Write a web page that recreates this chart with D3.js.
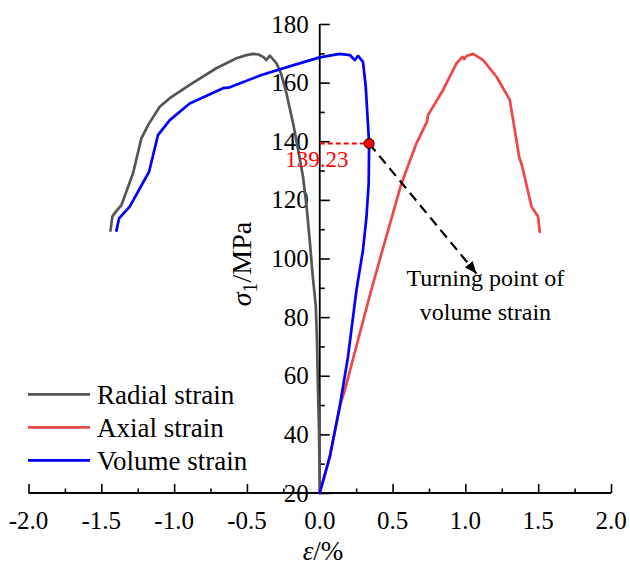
<!DOCTYPE html>
<html>
<head>
<meta charset="utf-8">
<script src="https://cdn.jsdelivr.net/npm/d3@7"></script>
<style>
  html, body { margin: 0; padding: 0; background: #fff; }
  svg { display: block; font-family: "Liberation Serif", "Times New Roman", serif; }
</style>
</head>
<body>
<svg id="chart" width="630" height="569"></svg>
<script>
// Stress–strain curves of a rock specimen under triaxial loading.
// Each curve: [strain %, sigma_1 MPa], in loading order.
const radialStrain = [
  [0, 20], [-0.005, 41.5], [-0.012, 55.1], [-0.019, 72.2], [-0.027, 83.5],
  [-0.050, 95.0], [-0.069, 106.3], [-0.090, 117.5], [-0.115, 127.9],
  [-0.150, 137.5], [-0.183, 146.1], [-0.229, 156.4], [-0.265, 163.0],
  [-0.297, 166.6], [-0.343, 169.2], [-0.366, 167.7], [-0.389, 168.8],
  [-0.420, 169.6], [-0.458, 169.8], [-0.510, 169.3], [-0.572, 168.3],
  [-0.710, 164.9], [-0.893, 159.2], [-1.030, 154.7], [-1.099, 151.8],
  [-1.179, 145.5], [-1.225, 141.0], [-1.282, 129.1], [-1.362, 118.2],
  [-1.400, 116.0], [-1.424, 114.3], [-1.437, 109.5]
];
const axialStrain = [
  [0, 20], [0.069, 32.4], [0.137, 49.4], [0.172, 55.1], [0.263, 72.2],
  [0.350, 88.5], [0.420, 101.0], [0.561, 125.6], [0.664, 139.3],
  [0.735, 146.5], [0.744, 149.0], [0.847, 157.5], [0.939, 166.6],
  [0.980, 168.8], [0.991, 168.0], [1.008, 169.1], [1.053, 169.8],
  [1.122, 167.7], [1.214, 162.0], [1.305, 154.1], [1.324, 148.4],
  [1.369, 134.7], [1.391, 131.3], [1.454, 117.7], [1.499, 114.3],
  [1.511, 109.1]
];
const volumeStrain = [
  [0, 20], [0.069, 32.4], [0.137, 49.4], [0.194, 66.5], [0.252, 89.2],
  [0.297, 102.9], [0.321, 114.3], [0.336, 125.6], [0.339, 139.23],
  [0.328, 148.4], [0.316, 158.6], [0.297, 167.1], [0.263, 169.1],
  [0.240, 167.7], [0.206, 169.4], [0.137, 169.8], [0, 168.6],
  [-0.185, 165.9], [-0.400, 162.6], [-0.618, 158.4], [-0.664, 158.1],
  [-0.893, 152.9], [-1.030, 147.2], [-1.111, 142.1], [-1.172, 129.6],
  [-1.305, 117.7], [-1.378, 113.7], [-1.396, 109.5]
];

const seriesNames = ["Radial strain", "Axial strain", "Volume strain"];
const seriesColors = ["#555555", "#ef4646", "#0000ff"];

const xTickValues = [-2.0, -1.5, -1.0, -0.5, 0.0, 0.5, 1.0, 1.5, 2.0];
const yTickValues = [20, 40, 60, 80, 100, 120, 140, 160, 180];

// Turning point of the volume strain curve and where its callout arrow ends
const turningPoint = [0.339, 139.23];
const calloutEnd = [1.076, 94.9];
const calloutText = ["Turning point of", "volume strain"];

const svg = d3.select("#chart");

const x = d3.scaleLinear().domain([-2, 2]).range([28.5, 611]);
const y = d3.scaleLinear().domain([20, 180]).range([493, 24]);

// ---- axes ----
const axisG = svg.append("g");

// horizontal axis at sigma = 20
const xAxis = d3.axisTop(x)
  .tickValues(d3.range(-2, 2.001, 0.25))
  .tickSize(9)
  .tickFormat("");
const gx = axisG.append("g").attr("transform", `translate(0,${y(20)})`).call(xAxis);
gx.selectAll(".tick line").attr("y2", (d, i) => i % 2 === 0 ? -9 : -4.5);
gx.select(".domain").attr("d", `M${x(-2)},0H${x(2)}`);

// vertical axis at strain = 0, ticks pointing right
const yAxis = d3.axisRight(y)
  .tickValues(d3.range(20, 180.001, 10))
  .tickSize(10)
  .tickFormat("");
const gy = axisG.append("g").attr("transform", `translate(${x(0)},0)`).call(yAxis);
gy.selectAll(".tick line").attr("x2", (d) => d % 20 === 0 ? 10 : 5);
gy.select(".domain").attr("d", `M0,${y(20)}V${y(180)}`);

axisG.selectAll(".domain").attr("stroke", "#000").attr("stroke-width", 1.8);
axisG.selectAll(".tick line").attr("stroke", "#000").attr("stroke-width", 1.6);

// tick labels
svg.append("g").selectAll("text").data(xTickValues).join("text")
  .attr("x", d => x(d)).attr("y", 529)
  .attr("text-anchor", "middle").attr("font-size", 25).attr("fill", "#000")
  .text(d => d.toFixed(1));

svg.append("g").selectAll("text").data(yTickValues).join("text")
  .attr("x", x(0) - 11).attr("y", d => y(d) + 8.5)
  .attr("text-anchor", "end").attr("font-size", 25).attr("fill", "#000")
  .text(d => d);

// axis titles
const xTitle = svg.append("text")
  .attr("x", 323).attr("y", 560).attr("text-anchor", "middle")
  .attr("font-size", 27).attr("fill", "#000");
xTitle.append("tspan").attr("font-style", "italic").text("ε");
xTitle.append("tspan").text("/%");

const yTitle = svg.append("text")
  .attr("transform", "translate(251,264) rotate(-90)")
  .attr("text-anchor", "middle").attr("font-size", 28).attr("fill", "#000");
yTitle.append("tspan").attr("font-style", "italic").text("σ");
yTitle.append("tspan").attr("font-size", 20).attr("dy", 6).text("1");
yTitle.append("tspan").attr("dy", -6).text("/MPa");

// ---- curves ----
const line = d3.line().x(d => x(d[0])).y(d => y(d[1])).curve(d3.curveLinear);
const allSeries = [radialStrain, axialStrain, volumeStrain];
svg.append("g").selectAll("path").data(allSeries).join("path")
  .attr("d", line)
  .attr("fill", "none")
  .attr("stroke", (d, i) => seriesColors[i])
  .attr("stroke-width", 2.7)
  .attr("stroke-linejoin", "round")
  .attr("stroke-linecap", "round");

// ---- turning point callout ----
svg.append("line")
  .attr("x1", x(0)).attr("y1", y(turningPoint[1]))
  .attr("x2", x(turningPoint[0])).attr("y2", y(turningPoint[1]))
  .attr("stroke", "#ff0000").attr("stroke-width", 2)
  .attr("stroke-dasharray", "5,3");

svg.append("defs").append("marker")
  .attr("id", "arrowHead")
  .attr("viewBox", "0 0 12 10").attr("refX", 12).attr("refY", 5)
  .attr("markerWidth", 12).attr("markerHeight", 10)
  .attr("markerUnits", "userSpaceOnUse")
  .attr("orient", "auto")
  .append("path").attr("d", "M0,0L12,5L0,10Z").attr("fill", "#000");

svg.append("line")
  .attr("x1", x(turningPoint[0])).attr("y1", y(turningPoint[1]))
  .attr("x2", x(calloutEnd[0])).attr("y2", y(calloutEnd[1]))
  .attr("stroke", "#000").attr("stroke-width", 2.2)
  .attr("stroke-dasharray", "10,6")
  .attr("marker-end", "url(#arrowHead)");

svg.append("circle")
  .attr("cx", x(turningPoint[0])).attr("cy", y(turningPoint[1]))
  .attr("r", 5).attr("fill", "#ff0000").attr("stroke", "#000").attr("stroke-width", 1);

svg.append("text")
  .attr("x", x(0) - 3).attr("y", y(turningPoint[1]) + 23)
  .attr("text-anchor", "middle").attr("font-size", 23).attr("fill", "#ff0000")
  .text(turningPoint[1].toFixed(2));

svg.append("g").selectAll("text").data(calloutText).join("text")
  .attr("x", x(calloutEnd[0]) + 9)
  .attr("y", (d, i) => y(calloutEnd[1]) + 13 + i * 33.5)
  .attr("text-anchor", "middle").attr("font-size", 24).attr("fill", "#000")
  .text(d => d);

// ---- legend ----
const legend = svg.append("g");
const rows = legend.selectAll("g").data(seriesNames).join("g")
  .attr("transform", (d, i) => `translate(28,${394.3 + i * 33})`);
rows.append("line").attr("x1", 0).attr("x2", 62).attr("y1", 0).attr("y2", 0)
  .attr("stroke", (d, i) => seriesColors[i]).attr("stroke-width", 2.7);
rows.append("text").attr("x", 69).attr("y", 9.5)
  .attr("font-size", 27).attr("fill", "#000").text(d => d);
</script>
</body>
</html>
